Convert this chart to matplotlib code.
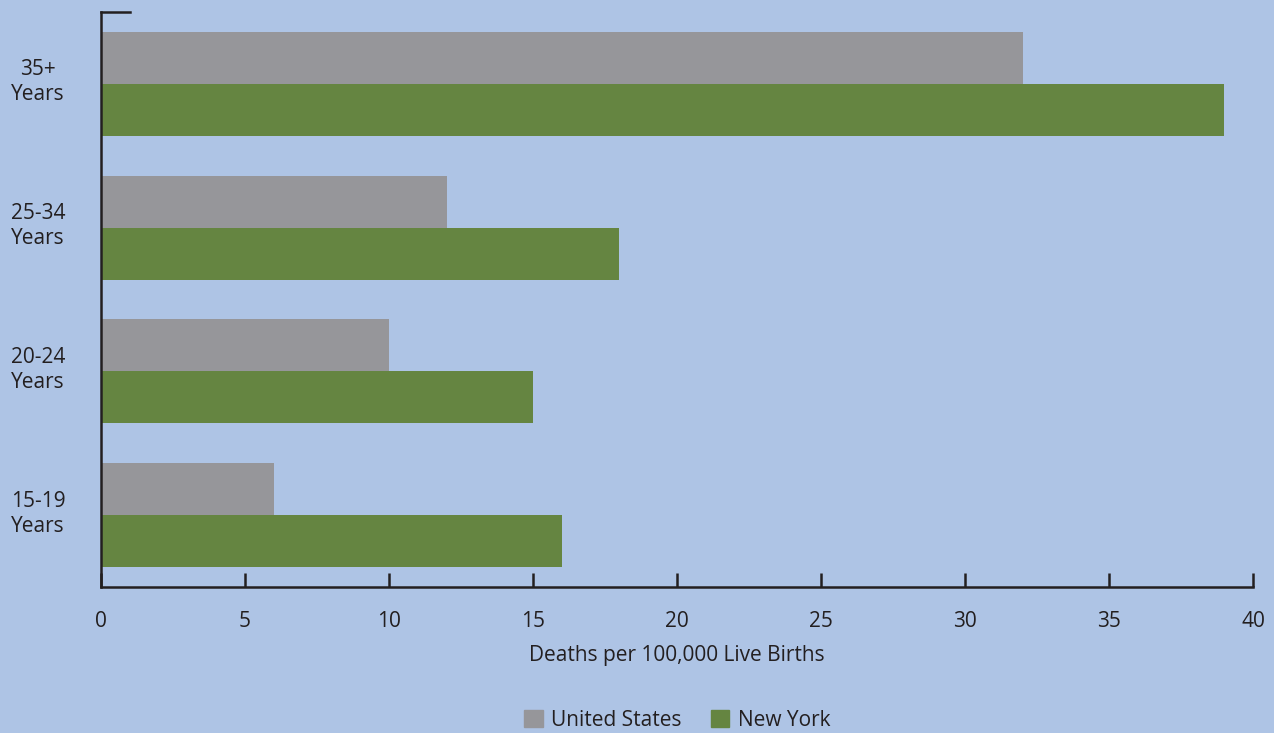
import matplotlib.pyplot as plt
from matplotlib.patches import Patch
import numpy as np

# maternal mortality by age group
groups = ['15-19\nYears', '20-24\nYears', '25-34\nYears', '35+\nYears']
us_rate = [6, 10, 12, 32]
ny_rate = [16, 15, 18, 39]
xticks = [0, 5, 10, 15, 20, 25, 30, 35, 40]

bg = '#aec4e5'
grey = '#96969a'
green = '#658541'
ink = '#231f20'

plt.rcParams['font.family'] = ['Open Sans', 'DejaVu Sans']

fig = plt.figure(figsize=(12.74, 7.33), dpi=100, facecolor=bg)
ax = fig.add_axes([101 / 1274, 1 - 587 / 733, 1152 / 1274, 575 / 733])
ax.set_facecolor(bg)

y = np.arange(len(groups))
h = 0.361
ax.barh(y + h / 2, us_rate, height=h, color=grey, label='United States')
ax.barh(y - h / 2, ny_rate, height=h, color=green, label='New York')

ax.set_xlim(0, 40)
ax.set_ylim(-0.5, 3.5)
ax.set_xticks(xticks)
ax.set_xticklabels([str(t) for t in xticks], fontsize=15, color=ink)
ax.tick_params(axis='x', direction='in', length=10, width=1.8, color=ink, pad=17)
ax.set_yticks([])

for s in ['top', 'right']:
    ax.spines[s].set_visible(False)
for s in ['left', 'bottom']:
    ax.spines[s].set_color(ink)
    ax.spines[s].set_linewidth(1.8)

# short cap at the top of the category axis
ax.plot([0, 29 / 1152], [1, 1], transform=ax.transAxes, color=ink,
        lw=1.8, clip_on=False, solid_capstyle='projecting')

for yi, g in zip(y, groups):
    ax.text(-0.0547, yi + 0.01, g, transform=ax.get_yaxis_transform(), ha='center',
            va='center', fontsize=15, color=ink, linespacing=1.25)

ax.set_xlabel('Deaths per 100,000 Live Births', fontsize=15, color=ink, labelpad=10)

handles = [Patch(color=grey, label='United States'), Patch(color=green, label='New York')]
fig.legend(handles=handles, loc='center', bbox_to_anchor=(677 / 1274, 1 - 720 / 733),
           ncol=2, frameon=False, fontsize=15, handlelength=0.9, handleheight=0.9,
           handletextpad=0.4, columnspacing=1.4, labelcolor=ink)

fig.savefig('out.png', dpi=100, facecolor=bg)
